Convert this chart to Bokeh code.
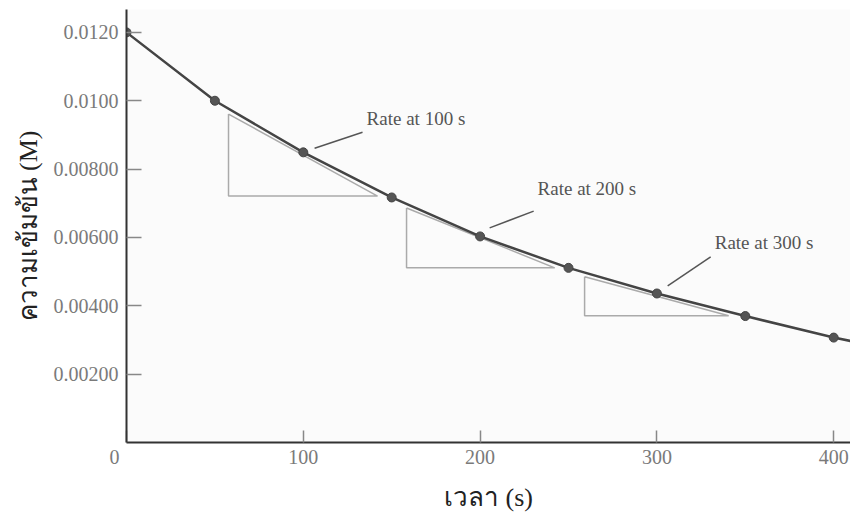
from bokeh.plotting import figure
from bokeh.models import LinearAxis, FixedTicker, Range1d, ColumnDataSource
from bokeh.embed import file_html
from bokeh.resources import INLINE

# ---- data ----
time_s = [0, 50, 100, 150, 200, 250, 300, 350, 400]
conc_M = [0.0120, 0.0100, 0.00849, 0.00717, 0.00603, 0.00511, 0.00436, 0.00370, 0.00307]
curve_tail_t = [409.5]
curve_tail_c = [0.00297]

y_ticks = [0.002, 0.004, 0.006, 0.008, 0.010, 0.012]
y_tick_labels = ["0.00200", "0.00400", "0.00600", "0.00800", "0.0100", "0.0120"]
x_ticks = [0, 100, 200, 300, 400]
x_tick_labels = ["0\u2003\u2009", "100", "200", "300", "400"]

# tangent triangles: left x, right x, top y, bottom y
tri_left = [57.7, 158.4, 259.1]
tri_right = [142.0, 242.2, 340.6]
tri_top = [0.00961, 0.00686, 0.00485]
tri_bottom = [0.00721, 0.00511, 0.00371]

# annotations
ann_text = ["Rate at 100 s", "Rate at 200 s", "Rate at 300 s"]
lead_x0 = [106.4, 205.4, 306.1]
lead_y0 = [0.00861, 0.00628, 0.00458]
lead_x1 = [133.5, 230.3, 330.4]
lead_y1 = [0.00908, 0.00677, 0.00543]
text_x = [135.8, 232.5, 332.7]
text_y = [0.00949, 0.00742, 0.00584]

x_title = "เวลา (s)"
y_title = "ความเข้มข้น (M)"

# ---- figure ----
p = figure(width=850, height=514, output_backend="svg", toolbar_location=None,
           x_range=Range1d(0, 409.5), y_range=Range1d(0, 0.01267),
           x_axis_location=None, y_axis_location=None,
           min_border_left=126, min_border_right=0, min_border_top=9, min_border_bottom=71)
p.outline_line_color = None
p.xgrid.visible = False
p.ygrid.visible = False
p.background_fill_color = "#fbfbfb"
p.border_fill_color = "white"

serif = "Liberation Serif"

yax = LinearAxis(ticker=FixedTicker(ticks=y_ticks),
                 major_label_overrides={t: l for t, l in zip(y_ticks, y_tick_labels)})
yax.axis_line_color = "#333333"
yax.axis_line_width = 2
yax.major_tick_in = 15
yax.major_tick_out = 0
yax.major_tick_line_color = "#888888"
yax.major_tick_line_width = 1.5
yax.minor_tick_line_color = None
yax.major_label_text_font = serif
yax.major_label_text_font_size = "20px"
yax.major_label_text_color = "#7a7a7a"
yax.major_label_standoff = 8
yax.axis_label = y_title
yax.axis_label_text_font = serif
yax.axis_label_text_font_size = "26px"
yax.axis_label_text_font_style = "normal"
yax.axis_label_text_color = "#222222"
yax.axis_label_standoff = 8
p.add_layout(yax, "left")

xax = LinearAxis(ticker=FixedTicker(ticks=x_ticks),
                 major_label_overrides={t: l for t, l in zip(x_ticks, x_tick_labels)})
xax.axis_line_color = "#333333"
xax.axis_line_width = 2
xax.major_tick_in = 12
xax.major_tick_out = 0
xax.major_tick_line_color = "#888888"
xax.major_tick_line_width = 1.5
xax.minor_tick_line_color = None
xax.major_label_text_font = serif
xax.major_label_text_font_size = "20px"
xax.major_label_text_color = "#7a7a7a"
xax.major_label_standoff = 3
xax.axis_label = x_title
xax.axis_label_text_font = serif
xax.axis_label_text_font_size = "26px"
xax.axis_label_text_font_style = "normal"
xax.axis_label_text_color = "#222222"
xax.axis_label_standoff = 12
p.add_layout(xax, "below")

# tangent triangles
xs, ys = [], []
for l, r, t, b in zip(tri_left, tri_right, tri_top, tri_bottom):
    xs.append([l, l, r, l])
    ys.append([t, b, b, t])
p.multi_line(xs, ys, line_color="#aaaaaa", line_width=1.5)

# curve
p.line(time_s + curve_tail_t, conc_M + curve_tail_c, line_color="#444444", line_width=2.5)
p.scatter(time_s, conc_M, size=9, fill_color="#555555", line_color="#444444")

# leader lines and texts
p.segment(x0=lead_x0, y0=lead_y0, x1=lead_x1, y1=lead_y1, line_color="#555555", line_width=1.5)
src = ColumnDataSource(dict(x=text_x, y=text_y, t=ann_text))
p.text(x="x", y="y", text="t", source=src, text_font={"value": serif}, text_font_size="19px",
       text_color="#555555", text_align="left", text_baseline="middle")

open("out.html", "w").write(file_html(p, INLINE))
